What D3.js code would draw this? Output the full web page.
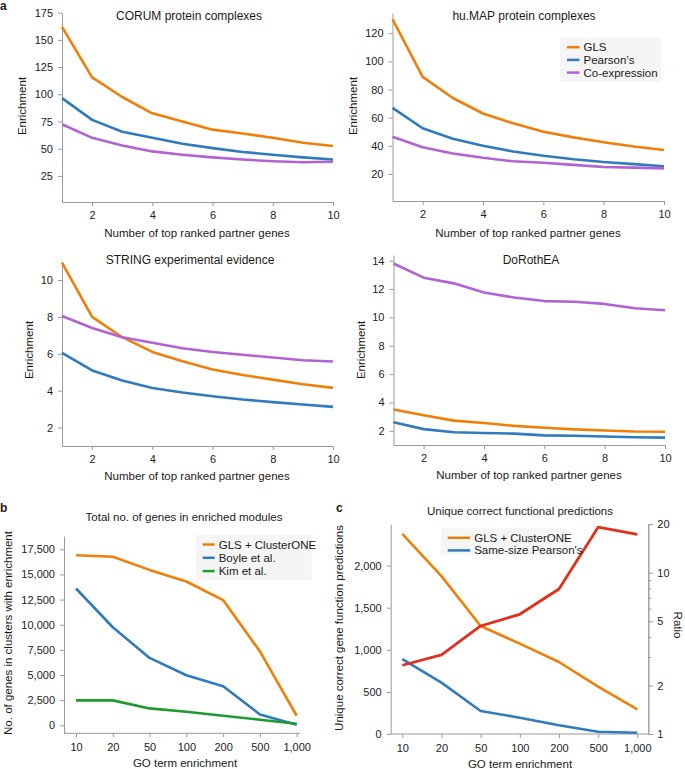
<!DOCTYPE html>
<html><head><meta charset="utf-8">
<script src="https://cdn.jsdelivr.net/npm/d3@7"></script>
<style>body{margin:0;background:#fff} text{font-family:"Liberation Sans",Arial,sans-serif}</style>
</head><body><svg id="chart" width="685" height="769"></svg>
<script>
// ---------- data ----------
const partnerGenes = [1,2,3,4,5,6,7,8,9,10];
const seriesNames = ["GLS","Pearson\u2019s","Co-expression"];
const corumGLS     = [162,115.5,97.5,82.5,75,67.5,64,60,55.5,52.5];
const corumPearson = [96.5,76.5,65.5,60,54.5,50.5,47,44.5,42,40];
const corumCoexp   = [72.5,60,53,47.5,44.5,42,40,38.5,37.5,38];
const humapGLS     = [130,89,74,63,56,50,46,42.5,39.5,37];
const humapPearson = [67,52.5,45,40,36,33,30.5,28.5,27,25.5];
const humapCoexp   = [46.5,39,34.5,31.5,29,28,26.5,25,24.5,24];
const stringGLS     = [10.95,8.0,6.9,6.1,5.6,5.15,4.85,4.6,4.35,4.15];
const stringPearson = [6.05,5.1,4.55,4.15,3.9,3.7,3.52,3.38,3.25,3.12];
const stringCoexp   = [8.05,7.4,6.9,6.6,6.3,6.1,5.95,5.8,5.65,5.58];
const dorotheaGLS     = [3.5,3.1,2.72,2.55,2.35,2.22,2.1,2.02,1.95,1.93];
const dorotheaPearson = [2.6,2.12,1.9,1.85,1.8,1.68,1.65,1.6,1.55,1.52];
const dorotheaCoexp   = [13.8,12.8,12.4,11.75,11.4,11.15,11.1,10.95,10.65,10.5];

const goTerms = ["10","20","50","100","200","500","1,000"];
const modulesNames = ["GLS + ClusterONE","Boyle et al.","Kim et al."];
const modulesGLS   = [16900,16750,15450,14300,12450,7350,950];
const modulesBoyle = [13600,9750,6700,4980,3880,1080,60];
const modulesKim   = [2480,2480,1680,1340,950,560,160];

const predNames = ["GLS + ClusterONE","Same-size Pearson's"];
const predGLS     = [2375,1875,1283,1073,855,562,293];
const predPearson = [890,610,273,194,103,27,15];
const predRatio   = [2.67,3.1,4.68,5.53,7.94,19.2,17.3];

const colors = {orange:"#f07f09", blue:"#2f7bbd", purple:"#b262d3", green:"#1d9b30", red:"#e0301e"};

// ---------- helpers ----------
const svg = d3.select("#chart");
const axisColor = "#9a9a9a";
function styleAxis(g){
  g.select(".domain").attr("stroke",axisColor).attr("stroke-width",1);
  g.selectAll(".tick line").attr("stroke",axisColor);
  g.selectAll(".tick text").attr("fill","#222").style("font-size","11px")
   .style("font-family","'Liberation Sans',Arial,sans-serif");
}
function txt(x,y,s,opt={}){
  const t = svg.append("text").attr("x",x).attr("y",y).text(s)
    .style("font-size",(opt.size||11)+"px").attr("fill","#1a1a1a")
    .attr("text-anchor",opt.anchor||"middle");
  if(opt.bold) t.style("font-weight","bold");
  if(opt.rot!==undefined){ t.attr("x",0).attr("y",0).attr("transform",`translate(${x},${y}) rotate(${opt.rot})`); }
  return t;
}
function legend(x0,y0,w,h,items,lineLen,rowGap){
  svg.append("rect").attr("x",x0).attr("y",y0).attr("width",w).attr("height",h).attr("fill","#f5f5f5");
  items.forEach((it,i)=>{
    const cy = y0 + 9.5 + i*rowGap;
    svg.append("line").attr("x1",x0+7).attr("x2",x0+7+lineLen).attr("y1",cy).attr("y2",cy)
      .attr("stroke",it.color).attr("stroke-width",2.5);
    txt(x0+11+lineLen, cy+4, it.name, {anchor:"start", size:11.5});
  });
}

// ---------- panel a ----------
function linePanel(p){
  const x = d3.scaleLinear().domain([1,10]).range([p.x0,p.x1]);
  const y = d3.scaleLinear().domain(p.yDomain).range([p.yb,p.yt]);
  const gx = svg.append("g").attr("transform",`translate(0,${p.yb})`)
    .call(d3.axisBottom(x).tickValues([2,4,6,8,10]).tickSize(4).tickSizeOuter(0).tickPadding(5));
  styleAxis(gx);
  const gy = svg.append("g").attr("transform",`translate(${p.x0},0)`)
    .call(d3.axisLeft(y).tickValues(p.yTicks).tickSize(4).tickSizeOuter(0).tickPadding(5));
  styleAxis(gy);
  const line = d3.line().x((d,i)=>x(partnerGenes[i])).y(d=>y(d));
  p.series.forEach(s=>{
    svg.append("path").datum(s.values).attr("d",line).attr("fill","none")
      .attr("stroke",s.color).attr("stroke-width",2.6).attr("stroke-linejoin","round");
  });
  txt(p.titleX,p.titleY,p.title,{size:12});
  txt(p.xlX,p.xlY,"Number of top ranked partner genes",{size:11.5});
  txt(p.ylX,p.ylY,"Enrichment",{rot:-90,size:11.5});
}

linePanel({x0:62,x1:333,yb:202,yt:12.7,yDomain:[1,175],yTicks:[25,50,75,100,125,150,175],
  series:[{values:corumGLS,color:colors.orange},{values:corumPearson,color:colors.blue},{values:corumCoexp,color:colors.purple}],
  title:"CORUM protein complexes",titleX:189,titleY:20,xlX:197,xlY:237,ylX:26,ylY:106});
linePanel({x0:392.5,x1:664,yb:201,yt:13,yDomain:[0.8,134.4],yTicks:[20,40,60,80,100,120],
  series:[{values:humapGLS,color:colors.orange},{values:humapPearson,color:colors.blue},{values:humapCoexp,color:colors.purple}],
  title:"hu.MAP protein complexes",titleX:524,titleY:20,xlX:528,xlY:237,ylX:357,ylY:106});
linePanel({x0:62,x1:333,yb:446,yt:261.6,yDomain:[1,11],yTicks:[2,4,6,8,10],
  series:[{values:stringGLS,color:colors.orange},{values:stringPearson,color:colors.blue},{values:stringCoexp,color:colors.purple}],
  title:"STRING experimental evidence",titleX:190,titleY:264,xlX:197,xlY:480,ylX:33,ylY:350});
linePanel({x0:393.5,x1:665,yb:445,yt:255,yDomain:[1,14.4],yTicks:[2,4,6,8,10,12,14],
  series:[{values:dorotheaGLS,color:colors.orange},{values:dorotheaPearson,color:colors.blue},{values:dorotheaCoexp,color:colors.purple}],
  title:"DoRothEA",titleX:531,titleY:264,xlX:529,xlY:479,ylX:365,ylY:350});

legend(560,37.7,101,44,[
  {name:seriesNames[0],color:colors.orange},
  {name:seriesNames[1],color:colors.blue},
  {name:seriesNames[2],color:colors.purple}],12.5,12.7);

// ---------- panel b ----------
(function(){
  const x = d3.scalePoint().domain(goTerms).range([76,296.7]);
  const y = d3.scaleLinear().domain([-795,18820]).range([733.3,536]);
  const gx = svg.append("g").attr("transform","translate(0,733.3)")
    .call(d3.axisBottom(x).tickSize(4).tickSizeOuter(0).tickPadding(6));
  gx.select(".domain").attr("d","M64,0H300");
  styleAxis(gx);
  const gy = svg.append("g").attr("transform","translate(64,0)")
    .call(d3.axisLeft(y).tickValues(d3.range(0,17501,2500)).tickFormat(d3.format(",")).tickSize(4).tickSizeOuter(0).tickPadding(5));
  styleAxis(gy);
  const line = d3.line().x((d,i)=>x(goTerms[i])).y(d=>y(d));
  [[modulesGLS,colors.orange],[modulesBoyle,colors.blue],[modulesKim,colors.green]].forEach(([v,c])=>{
    svg.append("path").datum(v).attr("d",line).attr("fill","none").attr("stroke",c)
      .attr("stroke-width",2.6).attr("stroke-linejoin","round");
  });
  legend(195.7,535,116,45,[
    {name:modulesNames[0],color:colors.orange},
    {name:modulesNames[1],color:colors.blue},
    {name:modulesNames[2],color:colors.green}],12,13.3);
  txt(184,521,"Total no. of genes in enriched modules",{size:11.5});
  txt(185,767,"GO term enrichment",{size:11.5});
  txt(12,633,"No. of genes in clusters with enrichment",{rot:-90,size:11.5});
})();

// ---------- panel c ----------
(function(){
  const x = d3.scalePoint().domain(goTerms).range([402.3,637.3]);
  const y = d3.scaleLinear().domain([0,2490]).range([734,524.3]);
  const yr = d3.scaleLog().domain([1,20]).range([734,524.3]);
  const gx = svg.append("g").attr("transform","translate(0,734)")
    .call(d3.axisBottom(x).tickSize(4).tickSizeOuter(0).tickPadding(6));
  gx.select(".domain").attr("d","M390.7,0H648.3");
  styleAxis(gx);
  const gy = svg.append("g").attr("transform","translate(390.7,0)")
    .call(d3.axisLeft(y).tickValues([0,500,1000,1500,2000]).tickFormat(d3.format(",")).tickSize(4).tickSizeOuter(0).tickPadding(5));
  styleAxis(gy);
  const gr = svg.append("g").attr("transform","translate(648.3,0)")
    .call(d3.axisRight(yr).tickValues([1,2,5,10,20]).tickFormat(d3.format("d")).tickSize(5).tickSizeOuter(0).tickPadding(4));
  styleAxis(gr);
  const gm = svg.append("g").attr("transform","translate(648.3,0)")
    .call(d3.axisRight(yr).tickValues([3,4,6,7,8,9]).tickFormat("").tickSize(3).tickSizeOuter(0));
  styleAxis(gm);
  const line = d3.line().x((d,i)=>x(goTerms[i])).y(d=>y(d));
  const lineR = d3.line().x((d,i)=>x(goTerms[i])).y(d=>yr(d));
  svg.append("path").datum(predGLS).attr("d",line).attr("fill","none").attr("stroke",colors.orange).attr("stroke-width",2.6).attr("stroke-linejoin","round");
  svg.append("path").datum(predPearson).attr("d",line).attr("fill","none").attr("stroke",colors.blue).attr("stroke-width",2.6).attr("stroke-linejoin","round");
  svg.append("path").datum(predRatio).attr("d",lineR).attr("fill","none").attr("stroke",colors.red).attr("stroke-width",2.8).attr("stroke-linejoin","round");
  legend(440.7,528.3,126,27,[
    {name:predNames[0],color:colors.orange},
    {name:predNames[1],color:colors.blue}],22.5,12.6);
  txt(520,515,"Unique correct functional predictions",{size:11.5});
  txt(520,768,"GO term enrichment",{size:11.5});
  txt(343,628,"Unique correct gene function predictions",{rot:-90,size:11.5});
  txt(674,625,"Ratio",{rot:90,size:11.5});
})();

// panel letters
txt(0,10,"a",{anchor:"start",bold:true,size:12});
txt(0,512,"b",{anchor:"start",bold:true,size:12});
txt(336,512,"c",{anchor:"start",bold:true,size:12});
</script></body></html>
